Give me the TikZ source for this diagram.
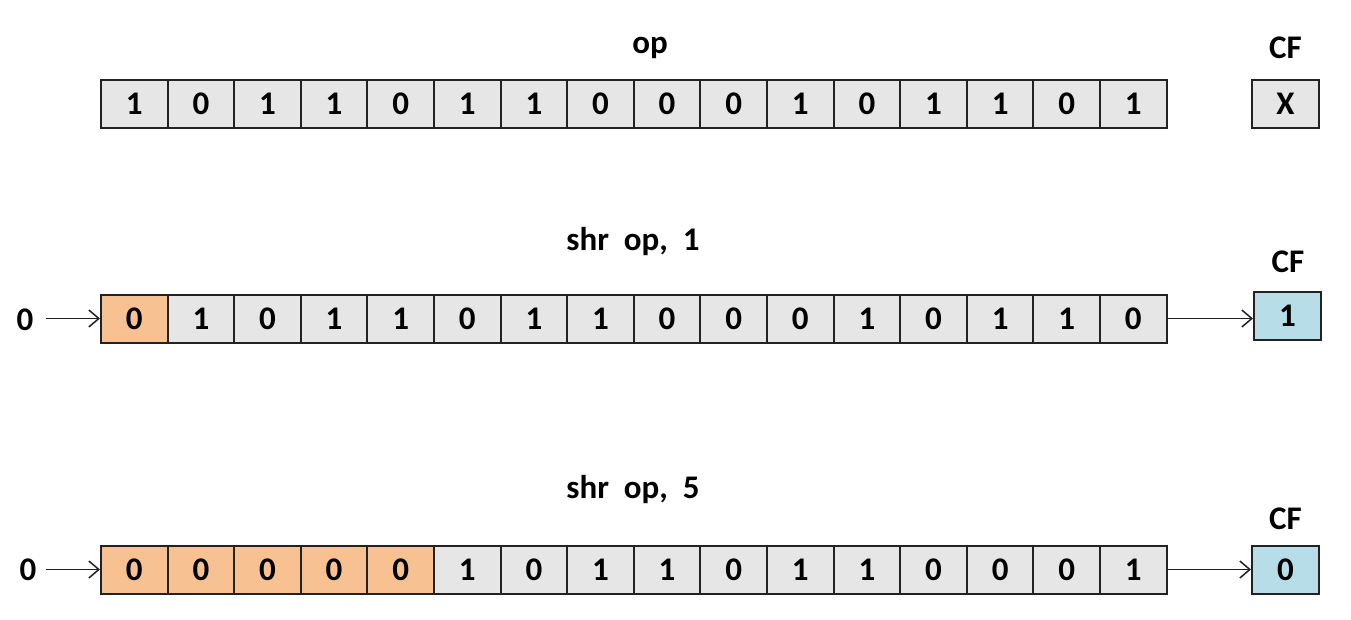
\documentclass[tikz,border=0pt]{standalone}
\usepackage{fontspec}
\setmainfont{Carlito}
\usetikzlibrary{arrows.meta}
\definecolor{cellgray}{HTML}{E6E6E6}
\definecolor{cellorange}{HTML}{F8C191}
\definecolor{cellblue}{HTML}{B7DEE8}
\definecolor{edge}{HTML}{222222}
\tikzset{
  cell/.style={draw=edge, line width=2pt, fill=cellgray, minimum width=66.6pt, minimum height=48pt, inner sep=0pt, font=\fontsize{33}{36}\selectfont\bfseries},
  ocell/.style={cell, fill=cellorange},
  cfbox/.style={cell, minimum width=67pt},
  bcfbox/.style={cfbox, fill=cellblue},
  lbl/.style={font=\fontsize{33}{36}\selectfont\bfseries, inner sep=0pt},
  arr/.style={-{Straight Barb[length=10pt,width=17pt,line width=1.5pt]}, line width=1.5pt, edge}
}
\begin{document}
\begin{tikzpicture}[x=1pt,y=-1pt]
\useasboundingbox (0,0) rectangle (1351,619);
% row 1
\node[lbl] (t1) at (650,48) {op};
\foreach \v [count=\i from 0] in {1,0,1,1,0,1,1,0,0,0,1,0,1,1,0,1} {
  \node[cell] (a\i) at ({101+33.3+66.6*\i},103.5) {\v};
}
\node[lbl] (cft1) at (1285.5,48) {CF};
\node[cfbox] (cf1) at (1285.5,103.5) {X};
% row 2
\node[lbl] (t2) at (633,242) {shr\ \ op,\ \ 1};
\foreach \v [count=\i from 0] in {0,1,0,1,1,0,1,1,0,0,0,1,0,1,1,0} {
  \ifnum\i=0
    \node[ocell] (b\i) at ({101+33.3+66.6*\i},318.5) {\v};
  \else
    \node[cell] (b\i) at ({101+33.3+66.6*\i},318.5) {\v};
  \fi
}
\node[lbl] (z2) at (25,319.5) {0};
\node[lbl] (cft2) at (1288,262) {CF};
\node[bcfbox] (cf2) at (1287.5,315.5) {1};
\draw[arr] ([xshift=12pt]z2.east |- b0.west) -- (b0.west);
\draw[arr] (b15.east) -- (cf2.west |- b15.east);
% row 3
\node[lbl] (t3) at (633,490) {shr\ \ op,\ \ 5};
\foreach \v [count=\i from 0] in {0,0,0,0,0,1,0,1,1,0,1,1,0,0,0,1} {
  \ifnum\i<5
    \node[ocell] (c\i) at ({101+33.3+66.6*\i},569.5) {\v};
  \else
    \node[cell] (c\i) at ({101+33.3+66.6*\i},569.5) {\v};
  \fi
}
\node[lbl] (z3) at (28,570) {0};
\node[lbl] (cft3) at (1285.5,519) {CF};
\node[bcfbox] (cf3) at (1285.5,569.5) {0};
\draw[arr] ([xshift=9pt]z3.east |- c0.west) -- (c0.west);
\draw[arr] (c15.east) -- (cf3.west);
\end{tikzpicture}
\end{document}
